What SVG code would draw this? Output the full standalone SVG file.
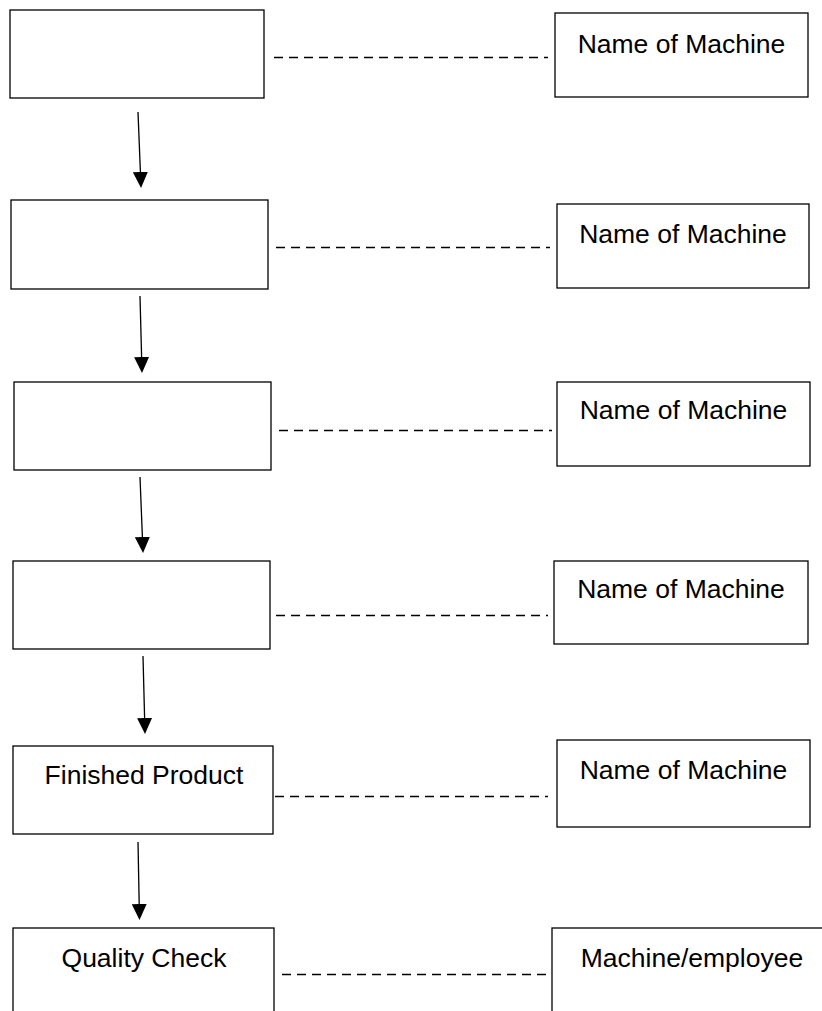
<svg xmlns="http://www.w3.org/2000/svg" width="822" height="1011" viewBox="0 0 822 1011">
<style>
.box{fill:#fff;stroke:#000;stroke-width:1.3}
.lbl{font-family:"Liberation Sans",Arial,sans-serif;font-size:26.5px;fill:#000;text-anchor:middle}
.dash{stroke:#000;stroke-width:1.4;stroke-dasharray:9 6;fill:none}
.arr{stroke:#000;stroke-width:1.3;fill:none;marker-end:url(#ah)}
</style>
<defs>
<marker id="ah" viewBox="0 0 16 15" markerWidth="16" markerHeight="15" refX="0" refY="7.5" orient="auto" markerUnits="userSpaceOnUse">
<path d="M0,0 L16,7.5 L0,15 z" fill="#000"/>
</marker>
</defs>
<rect width="822" height="1011" fill="#fff"/>
<g id="connectors">
<line class="dash" x1="274" y1="57.5" x2="548" y2="57.5"/>
<line class="dash" x1="276" y1="247.5" x2="550" y2="247.5"/>
<line class="dash" x1="279" y1="430.5" x2="552" y2="430.5"/>
<line class="dash" x1="276" y1="615.5" x2="548" y2="615.5"/>
<line class="dash" x1="275" y1="796.5" x2="548" y2="796.5"/>
<line class="dash" x1="282" y1="974.5" x2="555" y2="974.5"/>
<line class="arr" x1="138" y1="112" x2="140.4" y2="172"/>
<line class="arr" x1="140" y1="296" x2="141.6" y2="357"/>
<line class="arr" x1="140" y1="477" x2="142.4" y2="537"/>
<line class="arr" x1="143" y1="656" x2="144.6" y2="718"/>
<line class="arr" x1="138" y1="842" x2="139.2" y2="904"/>
</g>
<g id="step1"><rect class="box" x="10" y="10" width="254" height="88"/></g>
<g id="machine1"><rect class="box" x="555" y="13" width="253" height="84"/><text class="lbl" x="681.5" y="53">Name of Machine</text></g>
<g id="step2"><rect class="box" x="11" y="200" width="257" height="89"/></g>
<g id="machine2"><rect class="box" x="557" y="204" width="252" height="84"/><text class="lbl" x="683" y="243">Name of Machine</text></g>
<g id="step3"><rect class="box" x="14" y="382" width="257" height="88"/></g>
<g id="machine3"><rect class="box" x="557" y="382" width="253" height="84"/><text class="lbl" x="683.5" y="419">Name of Machine</text></g>
<g id="step4"><rect class="box" x="13" y="561" width="257" height="88"/></g>
<g id="machine4"><rect class="box" x="554" y="561" width="254" height="83"/><text class="lbl" x="681" y="598">Name of Machine</text></g>
<g id="finished"><rect class="box" x="13" y="746" width="260" height="88"/><text class="lbl" x="144" y="784">Finished Product</text></g>
<g id="machine5"><rect class="box" x="557" y="740" width="253" height="87"/><text class="lbl" x="683.5" y="779">Name of Machine</text></g>
<g id="quality"><rect class="box" x="13" y="928" width="261" height="100"/><text class="lbl" x="144" y="967">Quality Check</text></g>
<g id="machine6"><rect class="box" x="552" y="928" width="280" height="100"/><text class="lbl" x="692" y="967">Machine/employee</text></g>
</svg>
